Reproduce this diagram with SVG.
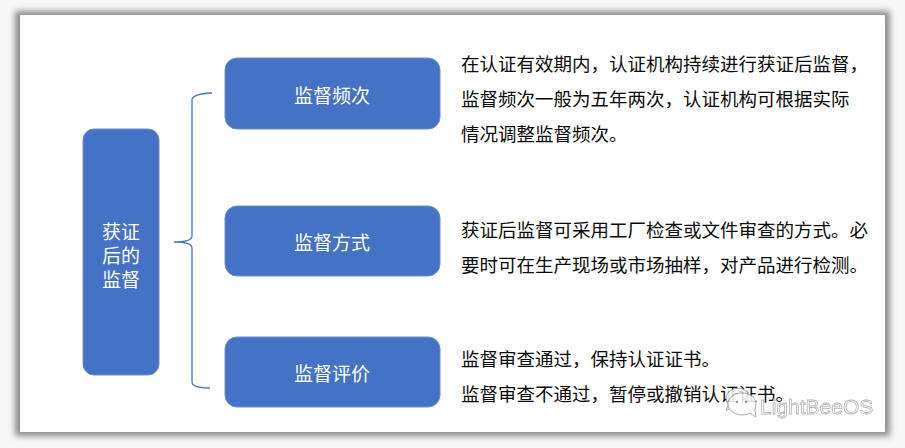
<svg xmlns="http://www.w3.org/2000/svg" width="905" height="448" viewBox="0 0 905 448">
<defs>
<filter id="sh" x="-5%" y="-5%" width="110%" height="110%"><feGaussianBlur stdDeviation="3"/></filter>
<style>
.node{fill:#4472C4;stroke:#6C8FD0;stroke-width:1}
.lbl{font-family:"Noto Sans CJK SC","Liberation Sans",sans-serif;font-size:19px;fill:#ffffff;text-anchor:middle;dominant-baseline:central}
.body{font-family:"Noto Sans CJK SC","Liberation Sans",sans-serif;font-size:18.5px;fill:#0a0a0a;dominant-baseline:central}
.brace{fill:none;stroke:#4472C4;stroke-width:1.3}
.wm{font-family:"Liberation Sans",sans-serif;font-size:21px;fill:#ffffff;stroke:#9a9a9a;stroke-width:0.8;opacity:0.9}
</style>
</defs>
<rect x="0" y="0" width="905" height="448" fill="#f7f7f7"/>
<rect x="15" y="11" width="875" height="425" fill="#8a8a8a" filter="url(#sh)"/>
<rect x="20" y="15" width="865" height="417" fill="#ffffff"/>

<g id="connectors">
<path class="brace" d="M212,93 Q192,94 192,100 L192,236 Q192,242 174,242 Q192,242 192,248 L192,382 Q192,388 210,388"/>
</g>

<g id="root">
<rect class="node" x="83" y="129" width="76" height="246" rx="11"/>
<text class="lbl" x="121" y="230">获证</text>
<text class="lbl" x="121" y="254">后的</text>
<text class="lbl" x="121" y="278">监督</text>
</g>

<g id="n1">
<rect class="node" x="225" y="58" width="215" height="71" rx="12"/>
<text class="lbl" x="332" y="94">监督频次</text>
</g>
<g id="n2">
<rect class="node" x="225" y="206" width="215" height="70" rx="12"/>
<text class="lbl" x="332" y="241">监督方式</text>
</g>
<g id="n3">
<rect class="node" x="225" y="337" width="215" height="70" rx="12"/>
<text class="lbl" x="332" y="372">监督评价</text>
</g>

<g id="t1">
<text class="body" x="461" y="63">在认证有效期内，认证机构持续进行获证后监督，</text>
<text class="body" x="461" y="98">监督频次一般为五年两次，认证机构可根据实际</text>
<text class="body" x="461" y="133">情况调整监督频次。</text>
</g>
<g id="t2">
<text class="body" x="461" y="229">获证后监督可采用工厂检查或文件审查的方式。必</text>
<text class="body" x="461" y="264">要时可在生产现场或市场抽样，对产品进行检测。</text>
</g>
<g id="t3">
<text class="body" x="461" y="358">监督审查通过，保持认证证书。</text>
<text class="body" x="461" y="393">监督审查不通过，暂停或撤销认证证书。</text>
</g>

<g id="watermark" opacity="0.85">
<path d="M726,398 a12,10 0 1 1 6,9 l-6,4 l2,-6 z" fill="#ffffff" stroke="#9a9a9a" stroke-width="1"/>
<path d="M756,403 a14,11 0 1 0 -6,10 l6,4 l-1,-7 z" fill="#ffffff" stroke="#9a9a9a" stroke-width="1"/>
<circle cx="737" cy="402" r="1.3" fill="#9a9a9a"/>
<circle cx="746" cy="402" r="1.3" fill="#9a9a9a"/>
<text class="wm" x="760" y="414">LightBeeOS</text>
</g>
</svg>
